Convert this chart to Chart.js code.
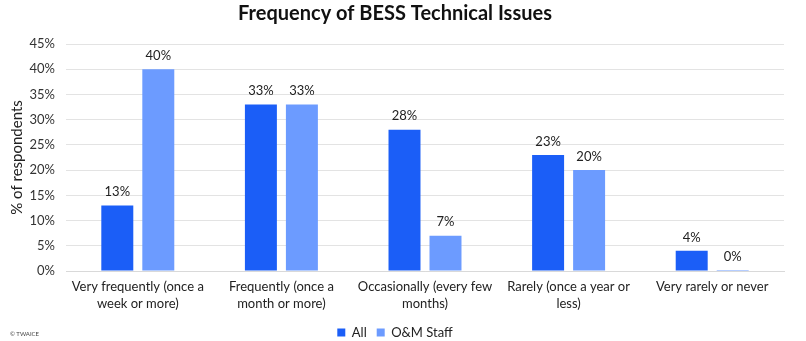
<!DOCTYPE html>
<html>
<head>
<meta charset="utf-8">
<script src="https://cdn.jsdelivr.net/npm/chart.js@4.4.1/dist/chart.umd.min.js"></script>
<style>
    html, body { margin: 0; padding: 0; background: #fff; }
    #wrap { position: relative; width: 806px; height: 341px; }
    #copy { position: absolute; left: 10px; top: 330px; font: 6px Lato, sans-serif; color: #444; }
</style>
</head>
<body>
<div id="wrap">
    <canvas id="issuesChart" width="806" height="341"></canvas>
    <div id="copy">© TWAICE</div>
</div>
<script>
const categories = [
    ['Very frequently (once a', 'week or more)'],
    ['Frequently (once a', 'month or more)'],
    ['Occasionally (every few', 'months)'],
    ['Rarely (once a year or', 'less)'],
    'Very rarely or never'
];
const allValues = [13, 33, 28, 23, 4];
const staffValues = [40, 33, 7, 20, 0];
const seriesNames = ['All', 'O&M Staff'];

const FONT = 'Lato, "Open Sans", sans-serif';

// prints the value above every bar
const valueLabels = {
    id: 'valueLabels',
    afterDatasetsDraw(chart) {
        const ctx = chart.ctx;
        ctx.save();
        ctx.font = '13px ' + FONT;
        ctx.fillStyle = '#222';
        ctx.textAlign = 'center';
        ctx.textBaseline = 'bottom';
        chart.data.datasets.forEach((ds, i) => {
            chart.getDatasetMeta(i).data.forEach((bar, j) => {
                ctx.fillText(ds.data[j] + '%', bar.x, bar.y - 7);
            });
        });
        ctx.restore();
    }
};

const ctx = document.getElementById('issuesChart').getContext('2d');
new Chart(ctx, {
    type: 'bar',
    data: {
        labels: categories,
        datasets: [{
            label: seriesNames[0],
            data: allValues,
            backgroundColor: '#1B5EF7',
            minBarLength: 1
        }, {
            label: seriesNames[1],
            data: staffValues,
            backgroundColor: '#6C9BFF',
            minBarLength: 1
        }]
    },
    options: {
        responsive: false,
        animation: false,
        categoryPercentage: 0.571,
        barPercentage: 0.78,
        layout: { padding: { left: 6, right: 22, top: 0, bottom: -8 } },
        plugins: {
            title: {
                display: true,
                text: 'Frequency of BESS Technical Issues',
                color: '#111',
                font: { family: FONT, size: 20, weight: 'bold' },
                padding: { top: 2, bottom: 18 }
            },
            legend: {
                position: 'bottom',
                labels: {
                    boxWidth: 8,
                    boxHeight: 8,
                    color: '#222',
                    font: { family: FONT, size: 13 },
                    padding: 10
                }
            },
            tooltip: { enabled: false }
        },
        scales: {
            x: {
                afterFit: scale => { scale.height = 45; },
                grid: { display: false, drawTicks: false },
                border: { color: '#d9d9d9' },
                ticks: {
                    color: '#222',
                    padding: 7,
                    font: { family: FONT, size: 13, lineHeight: 1.3 },
                    maxRotation: 0,
                    autoSkip: false
                }
            },
            y: {
                min: 0,
                max: 45,
                afterFit: scale => { scale.width = 60; },
                grid: { color: '#e3e3e3', drawTicks: false },
                border: { display: false },
                ticks: {
                    stepSize: 5,
                    color: '#333',
                    padding: 11,
                    font: { family: FONT, size: 13 },
                    callback: v => v + '%'
                },
                title: {
                    display: true,
                    text: '% of respondents',
                    color: '#222',
                    padding: { top: 2, bottom: 4 },
                    font: { family: FONT, size: 15 }
                }
            }
        }
    },
    plugins: [valueLabels]
});
</script>
</body>
</html>
